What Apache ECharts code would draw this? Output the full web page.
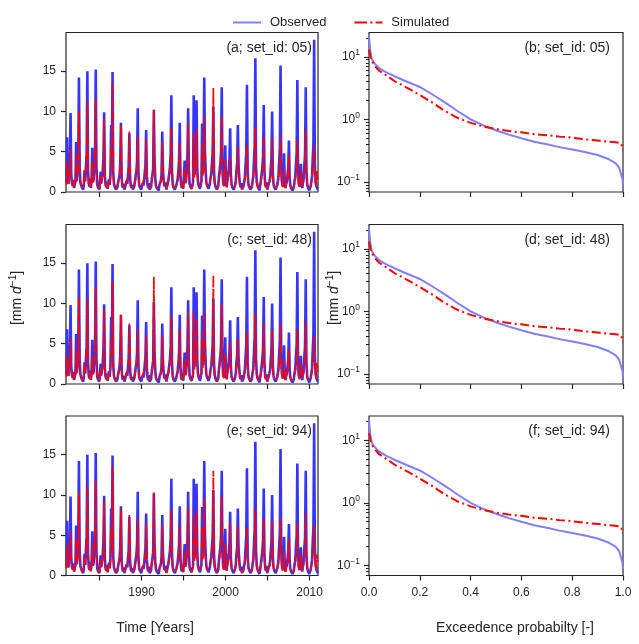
<!DOCTYPE html>
<html>
<head>
<meta charset="utf-8">
<script src="https://cdn.jsdelivr.net/npm/echarts@6/dist/echarts.min.js"></script>
<style>
html, body { margin: 0; padding: 0; background: #fff; }
#chart { width: 639px; height: 644px; }
</style>
</head>
<body>
<div id="chart"></div>
<script>
// years of the record, one row of monthly values per year (Jan..Dec), mm/d
const years = [1981, 1982, 1983, 1984, 1985, 1986, 1987, 1988, 1989, 1990,
    1991, 1992, 1993, 1994, 1995, 1996, 1997, 1998, 1999, 2000,
    2001, 2002, 2003, 2004, 2005, 2006, 2007, 2008, 2009, 2010]

const obsMonthly = [
    [1.2, 6.8, 1.6, 1.0, 2.4, 4.1, 9.8, 2.2, 1.1, 0.8, 1.5, 0.5],
    [0.4, 1.3, 6.2, 1.4, 2.6, 3.9, 14.2, 3.1, 1.2, 0.9, 0.6, 0.4],
    [0.3, 0.9, 2.7, 1.3, 3.0, 4.6, 15.0, 2.7, 1.1, 0.7, 1.7, 0.5],
    [1.4, 5.5, 1.2, 1.6, 3.4, 4.8, 15.2, 3.2, 1.0, 0.6, 0.5, 0.3],
    [0.3, 2.5, 1.1, 1.2, 2.6, 4.2, 9.9, 2.0, 0.9, 0.6, 1.3, 0.4],
    [0.4, 1.6, 0.9, 2.2, 8.3, 4.4, 14.9, 2.4, 1.0, 0.7, 0.5, 0.3],
    [0.3, 0.6, 1.2, 1.4, 2.1, 3.6, 8.6, 1.8, 0.8, 0.5, 1.0, 0.3],
    [0.2, 0.5, 1.4, 1.0, 2.0, 3.1, 7.3, 1.9, 0.8, 0.5, 0.9, 0.3],
    [0.3, 0.7, 1.3, 1.5, 2.6, 3.8, 10.4, 2.3, 0.9, 0.6, 0.4, 0.3],
    [0.2, 1.1, 0.8, 1.2, 2.4, 3.3, 7.7, 2.0, 0.9, 0.5, 1.1, 0.3],
    [0.3, 0.6, 1.5, 1.3, 2.9, 10.2, 4.1, 1.7, 0.8, 0.5, 0.4, 0.3],
    [0.2, 0.9, 1.1, 1.4, 2.2, 7.5, 2.9, 1.5, 0.7, 0.5, 1.2, 0.3],
    [0.3, 0.5, 1.6, 1.5, 3.1, 4.6, 12.0, 2.5, 1.0, 0.6, 0.4, 0.3],
    [0.2, 0.8, 1.2, 1.6, 2.6, 3.8, 8.6, 2.1, 0.9, 0.5, 1.3, 0.4],
    [0.3, 3.9, 1.1, 1.4, 3.2, 4.5, 10.4, 2.8, 1.1, 0.7, 0.5, 0.4],
    [0.4, 1.2, 12.0, 2.1, 4.0, 5.2, 11.4, 3.0, 1.3, 0.8, 0.6, 0.4],
    [0.5, 1.4, 8.5, 2.3, 4.8, 14.2, 5.3, 2.6, 1.2, 0.8, 1.0, 0.4],
    [0.4, 1.0, 1.8, 2.2, 3.6, 4.9, 10.6, 2.4, 1.1, 0.7, 0.5, 0.3],
    [0.3, 0.7, 1.9, 1.7, 3.5, 5.0, 13.0, 2.9, 1.2, 0.8, 1.9, 5.8],
    [1.4, 0.6, 1.4, 1.6, 2.8, 4.0, 7.9, 2.2, 1.0, 0.6, 0.4, 0.3],
    [0.3, 0.8, 1.3, 2.7, 3.6, 8.3, 3.4, 1.9, 0.9, 0.6, 1.1, 0.3],
    [0.2, 0.7, 1.2, 1.8, 3.3, 4.9, 13.3, 2.7, 1.1, 0.7, 0.5, 0.3],
    [0.3, 0.6, 1.4, 1.9, 3.8, 5.6, 16.6, 3.2, 1.3, 0.8, 0.5, 0.3],
    [0.2, 0.9, 1.5, 1.6, 3.1, 4.4, 10.8, 2.6, 1.0, 0.6, 1.2, 0.3],
    [0.2, 0.5, 1.3, 1.7, 3.0, 4.1, 10.0, 2.3, 1.0, 0.6, 0.4, 0.3],
    [0.2, 0.8, 1.2, 1.9, 3.7, 5.4, 15.7, 3.0, 1.2, 0.7, 1.0, 4.8],
    [1.1, 0.5, 1.0, 1.3, 2.2, 3.1, 6.4, 1.8, 0.8, 0.5, 0.4, 0.2],
    [0.2, 0.6, 1.4, 1.8, 3.5, 5.0, 13.9, 2.8, 1.1, 0.7, 0.9, 3.5],
    [0.8, 0.5, 1.2, 1.7, 3.4, 4.7, 13.0, 2.7, 1.0, 0.6, 0.4, 0.2],
    [0.2, 0.7, 1.3, 2.0, 4.2, 6.1, 18.9, 3.4, 1.3, 0.8, 0.6, 0.3]
]

// simulated, set_id 05
const simMonthlyA = [
    [0.9, 3.7, 1.4, 1.0, 2.0, 3.2, 5.4, 1.9, 1.0, 0.7, 1.2, 0.5],
    [0.5, 1.2, 4.5, 1.3, 2.3, 3.4, 10.1, 2.6, 1.1, 0.8, 0.6, 0.5],
    [0.4, 0.9, 2.2, 1.3, 4.5, 3.9, 11.2, 2.4, 1.0, 0.7, 1.4, 0.6],
    [1.1, 3.6, 1.2, 1.5, 4.8, 4.1, 11.6, 2.7, 1.0, 0.7, 0.6, 0.5],
    [0.4, 2.0, 1.0, 1.2, 2.3, 3.5, 9.1, 1.9, 0.9, 0.6, 1.1, 0.5],
    [0.5, 1.3, 0.9, 1.9, 5.6, 3.8, 13.5, 2.2, 1.0, 0.7, 0.6, 0.4],
    [0.4, 0.6, 1.1, 1.3, 2.0, 3.2, 8.3, 1.7, 0.8, 0.6, 0.9, 0.4],
    [0.4, 0.5, 1.2, 1.0, 1.9, 2.9, 7.5, 1.8, 0.8, 0.6, 0.8, 0.4],
    [0.4, 0.7, 1.2, 1.3, 2.3, 3.1, 7.0, 1.9, 0.9, 0.6, 0.5, 0.4],
    [0.4, 1.0, 0.8, 1.1, 2.1, 2.9, 6.5, 1.8, 0.8, 0.6, 1.0, 0.4],
    [0.4, 0.6, 1.3, 1.2, 2.6, 10.2, 3.4, 1.6, 0.8, 0.6, 0.5, 0.4],
    [0.4, 0.8, 1.0, 1.3, 2.0, 6.2, 2.5, 1.4, 0.8, 0.6, 1.0, 0.4],
    [0.4, 0.6, 1.4, 1.4, 2.6, 3.6, 8.1, 2.1, 0.9, 0.6, 0.5, 0.4],
    [0.4, 0.7, 1.1, 1.4, 2.2, 3.1, 6.2, 1.8, 0.8, 0.6, 1.1, 0.4],
    [0.4, 2.9, 1.1, 1.3, 2.6, 3.6, 8.5, 2.3, 1.0, 0.7, 0.5, 0.4],
    [0.5, 1.1, 7.2, 1.8, 3.1, 3.9, 7.8, 2.5, 1.1, 0.7, 0.6, 0.5],
    [0.5, 1.2, 5.9, 2.0, 3.7, 9.3, 4.1, 2.2, 1.1, 0.7, 0.9, 0.5],
    [0.5, 1.0, 1.6, 1.9, 3.1, 4.2, 12.9, 2.2, 1.0, 0.7, 0.5, 0.4],
    [0.4, 0.7, 1.6, 1.5, 2.9, 4.0, 9.5, 2.4, 1.1, 0.7, 1.6, 3.9],
    [1.2, 0.6, 1.2, 1.4, 2.1, 2.7, 4.3, 1.8, 0.9, 0.6, 0.5, 0.4],
    [0.4, 0.7, 1.1, 2.0, 2.7, 5.6, 2.6, 1.6, 0.8, 0.6, 1.0, 0.4],
    [0.4, 0.6, 1.1, 1.5, 2.4, 3.1, 5.8, 2.0, 0.9, 0.6, 0.5, 0.4],
    [0.4, 0.6, 1.2, 1.6, 2.8, 3.7, 8.1, 2.3, 1.0, 0.7, 0.5, 0.4],
    [0.4, 0.8, 1.3, 1.4, 2.4, 3.2, 7.0, 2.0, 0.9, 0.6, 1.0, 0.4],
    [0.4, 0.5, 1.1, 1.4, 2.3, 3.0, 6.6, 1.9, 0.9, 0.6, 0.5, 0.4],
    [0.4, 0.7, 1.1, 1.5, 2.6, 3.4, 7.0, 2.1, 1.0, 0.6, 0.9, 3.0],
    [0.9, 0.5, 0.9, 1.1, 1.8, 2.4, 4.6, 1.6, 0.8, 0.6, 0.5, 0.4],
    [0.4, 0.6, 1.2, 1.5, 2.5, 3.2, 6.4, 2.0, 0.9, 0.6, 0.8, 2.6],
    [0.7, 0.5, 1.1, 1.4, 2.6, 3.5, 7.7, 2.1, 0.9, 0.6, 0.5, 0.4],
    [0.4, 0.6, 1.1, 1.6, 2.7, 3.6, 5.8, 2.4, 1.1, 0.7, 2.6, 1.5]
]

// simulated, set_id 48
const simMonthlyC = [
    [0.9, 3.5, 1.4, 1.0, 2.0, 3.3, 5.6, 1.9, 1.0, 0.7, 1.2, 0.5],
    [0.5, 1.2, 4.3, 1.3, 2.3, 3.5, 10.8, 2.6, 1.1, 0.8, 0.6, 0.5],
    [0.4, 0.9, 2.2, 1.3, 4.2, 3.9, 10.5, 2.4, 1.0, 0.7, 1.4, 0.6],
    [1.1, 3.4, 1.2, 1.5, 4.6, 4.1, 12.1, 2.7, 1.0, 0.7, 0.6, 0.5],
    [0.4, 2.0, 1.0, 1.2, 2.3, 3.5, 9.3, 1.9, 0.9, 0.6, 1.1, 0.5],
    [0.5, 1.3, 0.9, 1.9, 5.4, 3.8, 12.8, 2.2, 1.0, 0.7, 0.6, 0.4],
    [0.4, 0.6, 1.1, 1.3, 2.0, 3.2, 8.6, 1.7, 0.8, 0.6, 0.9, 0.4],
    [0.4, 0.5, 1.2, 1.0, 1.9, 2.9, 7.5, 1.8, 0.8, 0.6, 0.8, 0.4],
    [0.4, 0.7, 1.2, 1.3, 2.3, 3.1, 6.8, 1.9, 0.9, 0.6, 0.5, 0.4],
    [0.4, 1.0, 0.8, 1.1, 2.1, 2.9, 6.0, 1.8, 0.8, 0.6, 1.0, 0.4],
    [0.4, 0.6, 1.3, 1.2, 2.6, 13.3, 3.6, 1.6, 0.8, 0.6, 0.5, 0.4],
    [0.4, 0.8, 1.0, 1.3, 2.0, 6.0, 2.5, 1.4, 0.8, 0.6, 1.0, 0.4],
    [0.4, 0.6, 1.4, 1.4, 2.6, 3.6, 8.5, 2.1, 0.9, 0.6, 0.5, 0.4],
    [0.4, 0.7, 1.1, 1.4, 2.2, 3.1, 6.8, 1.8, 0.8, 0.6, 1.1, 0.4],
    [0.4, 2.9, 1.1, 1.3, 2.6, 3.6, 8.9, 2.3, 1.0, 0.7, 0.5, 0.4],
    [0.5, 1.1, 8.9, 1.8, 3.1, 3.9, 8.0, 2.5, 1.1, 0.7, 0.6, 0.5],
    [0.5, 1.2, 5.9, 2.0, 3.7, 8.9, 4.1, 2.2, 1.1, 0.7, 0.9, 0.5],
    [0.5, 1.0, 1.6, 1.9, 3.1, 4.2, 13.5, 2.2, 1.0, 0.7, 0.5, 0.4],
    [0.4, 0.7, 1.6, 1.5, 2.9, 4.0, 9.9, 2.4, 1.1, 0.7, 1.6, 3.7],
    [1.2, 0.6, 1.2, 1.4, 2.1, 2.8, 5.2, 1.8, 0.9, 0.6, 0.5, 0.4],
    [0.4, 0.7, 1.1, 2.0, 2.7, 5.6, 2.6, 1.6, 0.8, 0.6, 1.0, 0.4],
    [0.4, 0.6, 1.1, 1.5, 2.4, 3.1, 6.5, 2.0, 0.9, 0.6, 0.5, 0.4],
    [0.4, 0.6, 1.2, 1.6, 2.8, 3.7, 8.7, 2.3, 1.0, 0.7, 0.5, 0.4],
    [0.4, 0.8, 1.3, 1.4, 2.4, 3.2, 7.5, 2.0, 0.9, 0.6, 1.0, 0.4],
    [0.4, 0.5, 1.1, 1.4, 2.3, 3.0, 6.8, 1.9, 0.9, 0.6, 0.5, 0.4],
    [0.4, 0.7, 1.1, 1.5, 2.6, 3.4, 7.5, 2.1, 1.0, 0.6, 0.9, 3.0],
    [0.9, 0.5, 0.9, 1.1, 1.8, 2.4, 4.3, 1.6, 0.8, 0.6, 0.5, 0.4],
    [0.4, 0.6, 1.2, 1.5, 2.5, 3.2, 6.8, 2.0, 0.9, 0.6, 0.8, 2.6],
    [0.7, 0.5, 1.1, 1.4, 2.6, 3.5, 7.6, 2.1, 0.9, 0.6, 0.5, 0.4],
    [0.4, 0.6, 1.1, 1.6, 2.7, 3.6, 6.0, 2.4, 1.1, 0.7, 2.6, 1.5]
]

// simulated, set_id 94
const simMonthlyE = [
    [0.9, 3.8, 1.4, 1.0, 2.0, 3.2, 5.5, 1.9, 1.0, 0.7, 1.2, 0.5],
    [0.5, 1.2, 4.6, 1.3, 2.3, 3.4, 10.3, 2.6, 1.1, 0.8, 0.6, 0.5],
    [0.4, 0.9, 2.2, 1.3, 4.6, 3.9, 11.1, 2.4, 1.0, 0.7, 1.4, 0.6],
    [1.1, 3.7, 1.2, 1.5, 4.8, 4.1, 11.8, 2.7, 1.0, 0.7, 0.6, 0.5],
    [0.4, 2.0, 1.0, 1.2, 2.3, 3.5, 9.2, 1.9, 0.9, 0.6, 1.1, 0.5],
    [0.5, 1.3, 0.9, 1.9, 5.7, 3.8, 13.5, 2.2, 1.0, 0.7, 0.6, 0.4],
    [0.4, 0.6, 1.1, 1.3, 2.0, 3.2, 8.2, 1.7, 0.8, 0.6, 0.9, 0.4],
    [0.4, 0.5, 1.2, 1.0, 1.9, 2.9, 7.5, 1.8, 0.8, 0.6, 0.8, 0.4],
    [0.4, 0.7, 1.2, 1.3, 2.3, 3.1, 7.1, 1.9, 0.9, 0.6, 0.5, 0.4],
    [0.4, 1.0, 0.8, 1.1, 2.1, 2.9, 6.5, 1.8, 0.8, 0.6, 1.0, 0.4],
    [0.4, 0.6, 1.3, 1.2, 2.6, 10.3, 3.4, 1.6, 0.8, 0.6, 0.5, 0.4],
    [0.4, 0.8, 1.0, 1.3, 2.0, 6.3, 2.5, 1.4, 0.8, 0.6, 1.0, 0.4],
    [0.4, 0.6, 1.4, 1.4, 2.6, 3.6, 8.2, 2.1, 0.9, 0.6, 0.5, 0.4],
    [0.4, 0.7, 1.1, 1.4, 2.2, 3.1, 6.3, 1.8, 0.8, 0.6, 1.1, 0.4],
    [0.4, 2.9, 1.1, 1.3, 2.6, 3.6, 8.4, 2.3, 1.0, 0.7, 0.5, 0.4],
    [0.5, 1.1, 7.4, 1.8, 3.1, 3.9, 8.2, 2.5, 1.1, 0.7, 0.6, 0.5],
    [0.5, 1.2, 6.0, 2.0, 3.7, 9.6, 4.1, 2.2, 1.1, 0.7, 0.9, 0.5],
    [0.5, 1.0, 1.6, 1.9, 3.1, 4.2, 13.0, 2.2, 1.0, 0.7, 0.5, 0.4],
    [0.4, 0.7, 1.6, 1.5, 2.9, 4.0, 9.8, 2.4, 1.1, 0.7, 1.6, 3.9],
    [1.2, 0.6, 1.2, 1.4, 2.1, 2.8, 6.5, 1.8, 0.9, 0.6, 0.5, 0.4],
    [0.4, 0.7, 1.1, 2.0, 2.7, 6.2, 2.6, 1.6, 0.8, 0.6, 1.0, 0.4],
    [0.4, 0.6, 1.1, 1.5, 2.4, 3.1, 6.0, 2.0, 0.9, 0.6, 0.5, 0.4],
    [0.4, 0.6, 1.2, 1.6, 2.8, 3.7, 8.2, 2.3, 1.0, 0.7, 0.5, 0.4],
    [0.4, 0.8, 1.3, 1.4, 2.4, 3.2, 7.1, 2.0, 0.9, 0.6, 1.0, 0.4],
    [0.4, 0.5, 1.1, 1.4, 2.3, 3.0, 6.9, 1.9, 0.9, 0.6, 0.5, 0.4],
    [0.4, 0.7, 1.1, 1.5, 2.6, 3.4, 7.2, 2.1, 1.0, 0.6, 0.9, 3.0],
    [0.9, 0.5, 0.9, 1.1, 1.8, 2.4, 4.5, 1.6, 0.8, 0.6, 0.5, 0.4],
    [0.4, 0.6, 1.2, 1.5, 2.5, 3.2, 6.5, 2.0, 0.9, 0.6, 0.8, 2.6],
    [0.7, 0.5, 1.1, 1.4, 2.6, 3.5, 7.7, 2.1, 0.9, 0.6, 0.5, 0.4],
    [0.4, 0.6, 1.1, 1.6, 2.7, 3.6, 6.3, 2.4, 1.1, 0.7, 2.6, 1.5]
]

// flow duration curves (exceedance probability vs. flow)
const fdcProb = [0, 0.005, 0.01, 0.02, 0.04, 0.07, 0.1, 0.15, 0.2, 0.25, 0.3, 0.35, 0.4, 0.45, 0.5,
    0.55, 0.6, 0.65, 0.7, 0.75, 0.8, 0.85, 0.9, 0.94, 0.97, 0.985, 0.993, 0.998, 1.0]
const fdcObs = [21, 12.5, 9.5, 8.0, 6.6, 5.6, 4.9, 4.0, 3.3, 2.5, 1.85, 1.35, 1.0, 0.8, 0.67,
    0.57, 0.5, 0.44, 0.40, 0.36, 0.33, 0.30, 0.27, 0.235, 0.2, 0.17, 0.13, 0.11, 0.087]
const fdcSim = [13, 10.5, 8.8, 7.4, 6.0, 5.0, 4.1, 3.2, 2.45, 1.85, 1.35, 1.05, 0.88, 0.77, 0.70,
    0.65, 0.62, 0.58, 0.56, 0.53, 0.51, 0.48, 0.46, 0.44, 0.43, 0.42, 0.41, 0.40, 0.32]

const tagsLeft = ['(a; set_id: 05)', '(c; set_id: 48)', '(e; set_id: 94)']
const tagsRight = ['(b; set_id: 05)', '(d; set_id: 48)', '(f; set_id: 94)']
const simSets = [simMonthlyA, simMonthlyC, simMonthlyE]

const yearTicks = [1985, 1990, 1995, 2000, 2005, 2010]
const yearLabels = [1990, 2000, 2010]
const flowTicks = [0, 5, 10, 15]
const logMajor = [0.1, 1, 10]
const logMinor = [0.07, 0.08, 0.09, 0.2, 0.3, 0.4, 0.5, 0.6, 0.7, 0.8, 0.9, 2, 3, 4, 5, 6, 7, 8, 9, 20]

const INK = '#262626'
const FONT = '"Liberation Sans", Arial, sans-serif'
const OBS_DARK = '#3535ff'
const OBS_LIGHT = '#8080ff'
const SIM_RED = '#ff0000'
const DASHDOT = [9, 3.5, 2, 3.5]

function monthlyToXY (rows) {
    const out = []
    rows.forEach((row, i) => {
        row.forEach((v, m) => out.push([years[i] + (m + 0.5) / 12, v]))
    })
    return out
}

const rowTops = [32.5, 224.5, 416]
const rowH = 159.5
const grids = []
const xAxes = []
const yAxes = []
const series = []
const graphics = []

const tickStyle = { color: INK, width: 1.2 }
const labelStyle = { color: INK, fontSize: 12, fontFamily: FONT }

rowTops.forEach((top, r) => {
    const last = r === 2
    // left: time series
    grids.push({ left: 66, width: 252, top: top, height: rowH, show: true, borderColor: INK, borderWidth: 1.2, backgroundColor: 'transparent' })
    // right: flow duration curve
    grids.push({ left: 369, width: 254, top: top, height: rowH, show: true, borderColor: INK, borderWidth: 1.2, backgroundColor: 'transparent' })

    const gl = 2 * r
    const gr = 2 * r + 1

    xAxes.push({
        gridIndex: gl, type: 'value', min: 1981, max: 2011,
        axisLine: { show: false },
        splitLine: { show: false },
        axisTick: { show: true, length: 5, lineStyle: tickStyle, customValues: yearTicks },
        axisLabel: Object.assign({ show: last, margin: 11, customValues: yearLabels, formatter: v => String(Math.round(v)) }, labelStyle)
    })
    xAxes.push({
        gridIndex: gr, type: 'value', min: 0, max: 1, interval: 0.2,
        axisLine: { show: false },
        splitLine: { show: false },
        axisTick: { show: true, length: 5, lineStyle: tickStyle },
        axisLabel: Object.assign({ show: last, margin: 11, formatter: v => v.toFixed(1) }, labelStyle)
    })

    const yl = yAxes.length
    yAxes.push({
        gridIndex: gl, type: 'value', min: 0, max: 19.8,
        axisLine: { show: false },
        splitLine: { show: false },
        axisTick: { show: true, length: 5, lineStyle: tickStyle, customValues: flowTicks },
        axisLabel: Object.assign({ margin: 10, customValues: flowTicks }, labelStyle)
    })
    const yr = yAxes.length
    yAxes.push({
        gridIndex: gr, type: 'log', logBase: 10, min: 0.069, max: 24.5, position: 'left',
        axisLine: { show: false },
        splitLine: { show: false },
        axisTick: { show: true, length: 5, lineStyle: tickStyle, customValues: logMajor },
        axisLabel: Object.assign({
            margin: 9,
            customValues: logMajor,
            formatter: v => '10{sup|' + Math.round(Math.log10(v)).toString().replace('-', '\u2212') + '}',
            rich: { sup: { fontSize: 8.5, color: INK, fontFamily: FONT, padding: [0, 0, 8, 0] } }
        }, labelStyle)
    })
    // minor log ticks
    yAxes.push({
        gridIndex: gr, type: 'log', logBase: 10, min: 0.069, max: 24.5, position: 'left', offset: 0,
        axisLine: { show: false },
        splitLine: { show: false },
        axisTick: { show: true, length: 3, lineStyle: { color: INK, width: 1 }, customValues: logMinor },
        axisLabel: { show: false }
    })

    series.push({
        name: 'Observed', type: 'line', xAxisIndex: gl, yAxisIndex: yl,
        data: monthlyToXY(obsMonthly), symbol: 'none', showSymbol: false,
        lineStyle: { color: OBS_DARK, width: 2.6 }, z: 2
    })
    series.push({
        name: 'Simulated', type: 'line', xAxisIndex: gl, yAxisIndex: yl,
        data: monthlyToXY(simSets[r]), symbol: 'none', showSymbol: false,
        lineStyle: { color: SIM_RED, width: 1.7, type: [8, 1.5, 2, 1.5] }, z: 3
    })
    series.push({
        name: 'Observed', type: 'line', xAxisIndex: gr, yAxisIndex: yr,
        data: fdcProb.map((p, i) => [p, fdcObs[i]]), symbol: 'none', showSymbol: false,
        lineStyle: { color: OBS_LIGHT, width: 2 }, z: 2
    })
    series.push({
        name: 'Simulated', type: 'line', xAxisIndex: gr, yAxisIndex: yr,
        data: fdcProb.map((p, i) => [p, fdcSim[i]]), symbol: 'none', showSymbol: false,
        lineStyle: { color: SIM_RED, width: 2, type: DASHDOT }, z: 3
    })

    graphics.push({
        type: 'text', x: 312, y: top + 15.5, z: 10,
        style: { text: tagsLeft[r], fill: INK, font: '14px ' + FONT, textAlign: 'right', textVerticalAlign: 'middle' }
    })
    graphics.push({
        type: 'text', x: 610, y: top + 15.5, z: 10,
        style: { text: tagsRight[r], fill: INK, font: '14px ' + FONT, textAlign: 'right', textVerticalAlign: 'middle' }
    })
})

const unitRich = {
    it: { fontSize: 14, fontStyle: 'italic', fill: INK, fontFamily: FONT },
    sup: { fontSize: 10, fill: INK, fontFamily: FONT, padding: [0, 0, 8, 0] }
}
function unitLabel (x) {
    return {
        type: 'text', x: x, y: 298, rotation: Math.PI / 2, z: 10,
        style: {
            text: '[mm {it|d}{sup|\u22121}]', fill: INK, font: '14px ' + FONT,
            textAlign: 'center', textVerticalAlign: 'middle', rich: unitRich
        }
    }
}
graphics.push(unitLabel(17))
graphics.push(unitLabel(334))
graphics.push({
    type: 'text', x: 155, y: 628,
    style: { text: 'Time [Years]', fill: INK, font: '14px ' + FONT, textAlign: 'center', textVerticalAlign: 'middle' }
})
graphics.push({
    type: 'text', x: 515, y: 628,
    style: { text: 'Exceedence probabilty [-]', fill: INK, font: '14px ' + FONT, textAlign: 'center', textVerticalAlign: 'middle' }
})

const chart = echarts.init(document.getElementById('chart'))
chart.setOption({
    animation: false,
    backgroundColor: '#ffffff',
    legend: {
        top: 11,
        left: 228,
        itemWidth: 28,
        itemHeight: 2,
        itemGap: 28,
        textStyle: { color: INK, fontSize: 13, fontFamily: FONT, padding: [0, 0, 0, 4] },
        data: [
            { name: 'Observed', icon: 'rect', itemStyle: { color: OBS_LIGHT } },
            { name: 'Simulated', icon: 'path://M0,0h12.8v2h-12.8zM16,0h2v2h-2zM21.2,0h6.8v2h-6.8z', itemStyle: { color: SIM_RED } }
        ]
    },
    grid: grids,
    xAxis: xAxes,
    yAxis: yAxes,
    series: series,
    graphic: graphics
})
</script>
</body>
</html>
